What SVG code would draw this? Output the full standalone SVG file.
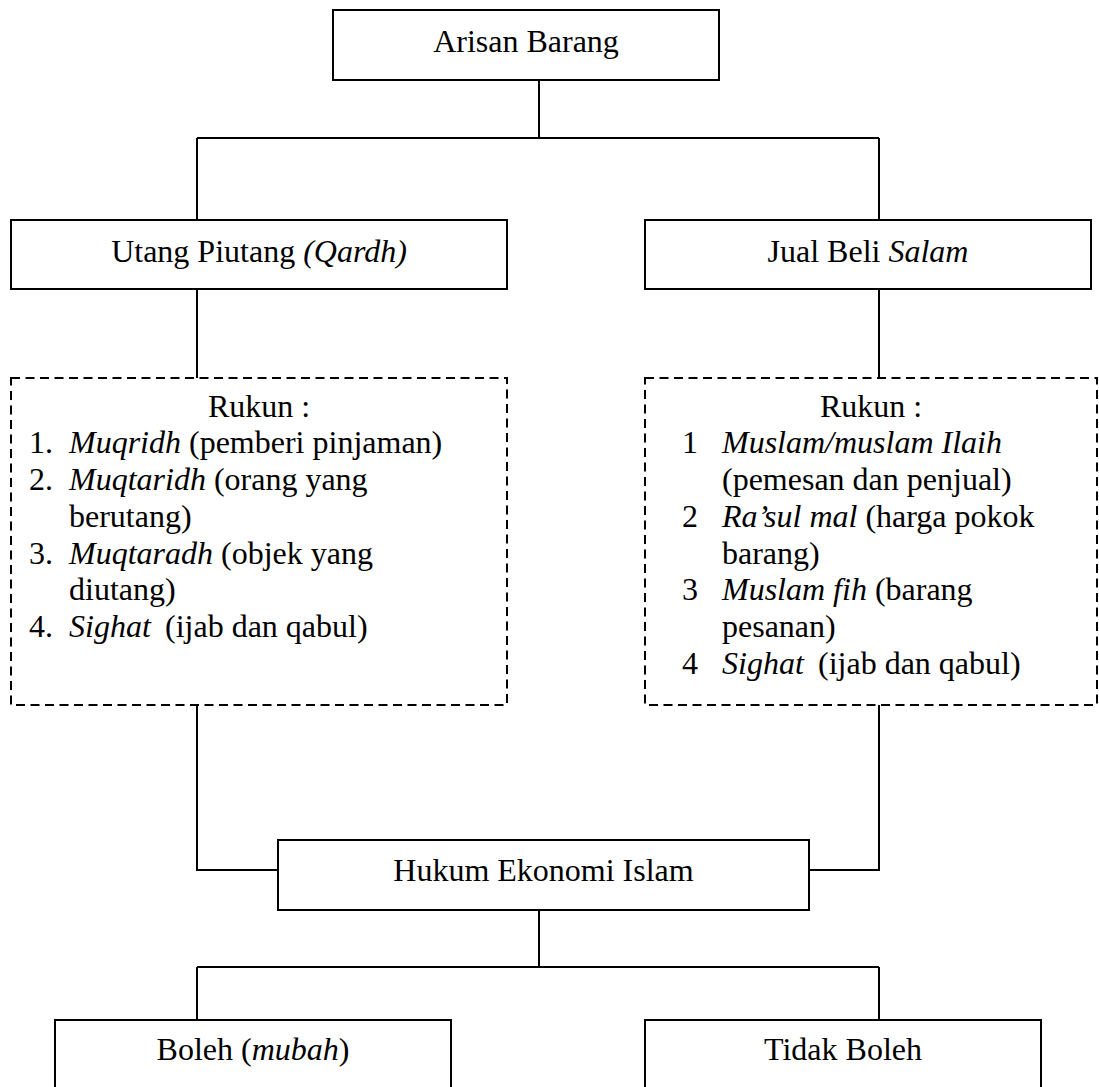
<svg xmlns="http://www.w3.org/2000/svg" width="1099" height="1087" viewBox="0 0 1099 1087">
<style>
  .box { fill: #fff; stroke: #000; stroke-width: 2; }
  .dbox { fill: #fff; stroke: #000; stroke-width: 2; stroke-dasharray: 9 5.5; }
  .conn { fill: none; stroke: #000; stroke-width: 2; }
  text { font-family: "Liberation Serif", "Times New Roman", serif; font-size: 32px; fill: #000; }
  .c { text-anchor: middle; }
  .i { font-style: italic; }
</style>
<rect width="1099" height="1087" fill="#fff"/>
<g id="connectors">
  <path class="conn" d="M539 80 V138 M197 138 H879 M197 138 V220 M879 138 V220"/>
  <path class="conn" d="M197 289 V378 M879 289 V378"/>
  <path class="conn" d="M197 705 V870 H278 M879 705 V870 H809"/>
  <path class="conn" d="M539 910 V967 M197 967 H879 M197 967 V1020 M879 967 V1020"/>
</g>
<g id="arisan">
  <rect class="box" x="333" y="10" width="386" height="70"/>
  <text class="c" x="526" y="52">Arisan Barang</text>
</g>
<g id="utang">
  <rect class="box" x="11" y="220" width="496" height="69"/>
  <text class="c" x="259" y="262">Utang Piutang <tspan class="i">(Qardh)</tspan></text>
</g>
<g id="jual">
  <rect class="box" x="645" y="220" width="446" height="69"/>
  <text class="c" x="868" y="262">Jual Beli <tspan class="i">Salam</tspan></text>
</g>
<g id="rukun-qardh">
  <rect class="dbox" x="11" y="378" width="496" height="327"/>
  <text class="c" x="259" y="416.5">Rukun :</text>
  <text x="29" y="453.3">1.</text>
  <text x="69" y="453.3"><tspan class="i">Muqridh</tspan> (pemberi pinjaman)</text>
  <text x="29" y="490">2.</text>
  <text x="69" y="490"><tspan class="i">Muqtaridh</tspan> (orang yang</text>
  <text x="69" y="526.8">berutang)</text>
  <text x="29" y="563.6">3.</text>
  <text x="69" y="563.6"><tspan class="i">Muqtaradh</tspan> (objek yang</text>
  <text x="69" y="600.4">diutang)</text>
  <text x="29" y="637.2">4.</text>
  <text x="69" y="637.2"><tspan class="i">Sighat</tspan><tspan x="165">(ijab dan qabul)</tspan></text>
</g>
<g id="rukun-salam">
  <rect class="dbox" x="645" y="378" width="452" height="327"/>
  <text class="c" x="871" y="416.5">Rukun :</text>
  <text x="682" y="453.3">1</text>
  <text x="722" y="453.3" class="i">Muslam/muslam Ilaih</text>
  <text x="722" y="490">(pemesan dan penjual)</text>
  <text x="682" y="526.8">2</text>
  <text x="722" y="526.8"><tspan class="i">Ra’sul mal</tspan> (harga pokok</text>
  <text x="722" y="563.6">barang)</text>
  <text x="682" y="600.4">3</text>
  <text x="722" y="600.4"><tspan class="i">Muslam fih</tspan> (barang</text>
  <text x="722" y="637.2">pesanan)</text>
  <text x="682" y="674">4</text>
  <text x="722" y="674"><tspan class="i">Sighat</tspan><tspan x="818">(ijab dan qabul)</tspan></text>
</g>
<g id="hukum">
  <rect class="box" x="278" y="840" width="531" height="70"/>
  <text class="c" x="543.5" y="881">Hukum Ekonomi Islam</text>
</g>
<g id="boleh">
  <rect class="box" x="55" y="1020" width="396" height="80"/>
  <text class="c" x="253" y="1060">Boleh (<tspan class="i">mubah</tspan>)</text>
</g>
<g id="tidak-boleh">
  <rect class="box" x="645" y="1020" width="396" height="80"/>
  <text class="c" x="843" y="1060">Tidak Boleh</text>
</g>
</svg>
